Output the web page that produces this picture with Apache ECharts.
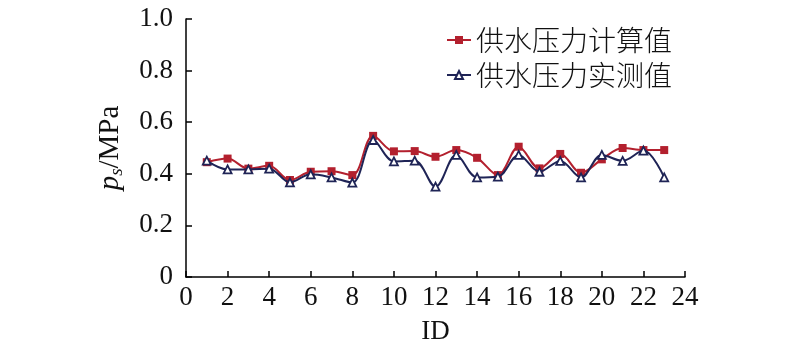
<!DOCTYPE html>
<html><head><meta charset="utf-8">
<script src="https://cdn.jsdelivr.net/npm/echarts@6/dist/echarts.min.js"></script>
<style>html,body{margin:0;padding:0;background:#fff}#c{width:800px;height:358px}</style>
</head><body><div id="c"></div>
<script>
const ids = [1,2,3,4,5,6,7,8,9,10,11,12,13,14,15,16,17,18,19,20,21,22,23];
const calcValues = [0.445,0.459,0.420,0.431,0.376,0.408,0.410,0.395,0.547,0.487,0.488,0.466,0.492,0.462,0.395,0.505,0.421,0.477,0.404,0.456,0.500,0.492,0.492];
const measValues = [0.451,0.417,0.417,0.420,0.367,0.398,0.386,0.366,0.531,0.448,0.451,0.350,0.473,0.386,0.389,0.473,0.408,0.450,0.386,0.473,0.450,0.490,0.386];
const seriesNames = ['供水压力计算值','供水压力实测值'];
const xTicks = {min:0,max:24,interval:2};
const yTicks = {min:0,max:1,interval:0.2};

const chart = echarts.init(document.getElementById('c'));
const serif = '"Liberation Serif","Times New Roman",serif';
const axisCommon = {
  axisLine:{show:true,lineStyle:{color:'#000',width:1.5}},
  axisTick:{show:true,inside:true,length:6,lineStyle:{color:'#000',width:1.5}},
  splitLine:{show:false},
  axisLabel:{color:'#111',fontFamily:serif,fontSize:27}
};
chart.setOption({
  animation:false,
  grid:{left:186,right:115,top:19,bottom:81,containLabel:false},
  legend:{
    orient:'vertical', right:123, top:21, itemGap:7, itemWidth:24, itemHeight:10,
    textStyle:{fontFamily:'"Noto Sans CJK SC",sans-serif',fontSize:28,color:'#111',fontWeight:300},
    data:seriesNames
  },
  xAxis:Object.assign({type:'value',min:xTicks.min,max:xTicks.max,interval:xTicks.interval,
    name:'ID',nameLocation:'middle',nameGap:41,
    nameTextStyle:{fontFamily:serif,fontSize:27,color:'#111'}},axisCommon,
    {axisLabel:Object.assign({},axisCommon.axisLabel,{margin:7})}),
  yAxis:Object.assign({type:'value',min:yTicks.min,max:yTicks.max,interval:yTicks.interval,
    name:'{p|p}{s|s}{m|/MPa}',nameLocation:'middle',nameRotate:90,nameGap:60,
    nameTextStyle:{rich:{
      p:{fontFamily:serif,fontSize:29,fontStyle:'italic',color:'#111'},
      s:{fontFamily:serif,fontSize:19,fontStyle:'italic',color:'#111',verticalAlign:'bottom',padding:[12,0,0,0]},
      m:{fontFamily:serif,fontSize:29,color:'#111'}
    }}},axisCommon,
    {axisLabel:Object.assign({},axisCommon.axisLabel,{margin:13,formatter:v=>v===0?'0':v.toFixed(1)})}),
  series:[
    {name:seriesNames[0],type:'line',smooth:0.35,data:ids.map((x,i)=>[x,calcValues[i]]),
      symbol:'rect',symbolSize:8,itemStyle:{color:'#b3202e'},lineStyle:{color:'#b3202e',width:2},z:2},
    {name:seriesNames[1],type:'line',smooth:0.35,data:ids.map((x,i)=>[x,measValues[i]]),
      symbol:'triangle',symbolSize:8,itemStyle:{color:'#fff',borderColor:'#1f2456',borderWidth:1.8},
      lineStyle:{color:'#1f2456',width:2},z:3}
  ]
});
</script></body></html>
